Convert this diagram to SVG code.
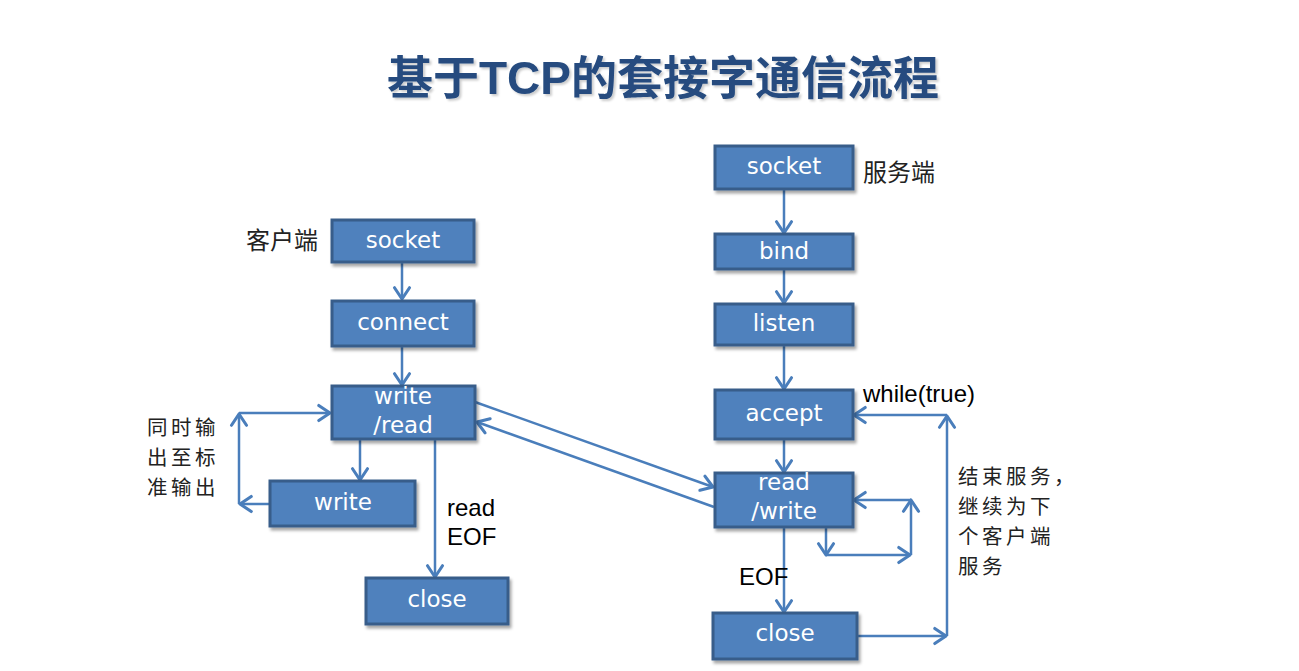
<svg xmlns="http://www.w3.org/2000/svg" width="1299" height="671" viewBox="0 0 1299 671">
<defs>
<filter id="sh" x="-10%" y="-10%" width="130%" height="140%">
<feDropShadow dx="2" dy="3" stdDeviation="1.5" flood-color="#000" flood-opacity="0.35"/>
</filter>
<filter id="tsh" x="-5%" y="-20%" width="110%" height="150%">
<feDropShadow dx="2" dy="2" stdDeviation="1" flood-color="#000" flood-opacity="0.2"/>
</filter>
<marker id="ah" markerUnits="userSpaceOnUse" markerWidth="20" markerHeight="20" viewBox="-12 -8 14 16" refX="0" refY="0" orient="auto">
<path d="M-9,-6 L0,0 L-9,6" fill="none" stroke="#4a7ebb" stroke-width="2.5" stroke-linecap="round" stroke-linejoin="round"/>
</marker>
</defs>
<style>
.box{fill:#4f81bd;stroke:#385d8a;stroke-width:3;filter:url(#sh)}
.bt{font-family:"DejaVu Sans","Liberation Sans",sans-serif;font-size:23px;fill:#fff;text-anchor:middle}
.cn{font-family:"Noto Sans CJK SC",sans-serif;font-size:24px;fill:#222}
.cm{font-family:"Noto Sans CJK SC",sans-serif;font-size:20.5px;letter-spacing:3.5px;fill:#222}
.en{font-family:"Liberation Sans",Arial,sans-serif;font-size:24px;fill:#000}
.c{fill:none;stroke:#4a7ebb;stroke-width:2.5;marker-end:url(#ah)}
</style>
<rect width="1299" height="671" fill="#fff"/>
<text x="663" y="94" text-anchor="middle" font-family="Noto Sans CJK SC,sans-serif" font-size="46" font-weight="bold" fill="#264b7f" filter="url(#tsh)">基于<tspan font-family="Liberation Sans,Arial,sans-serif" font-weight="bold">TCP</tspan>的套接字通信流程</text>

<g id="connectors">
<path class="c" d="M402,263 L402,299"/>
<path class="c" d="M402,347 L402,385"/>
<path class="c" d="M360,440 L360,480"/>
<path class="c" d="M435,440 L435,577"/>
<path class="c" d="M270,504 L240,504"/>
<path class="c" d="M239,504 L239,414"/>
<path class="c" d="M239,413 L330,413"/>
<path class="c" d="M475,402 L713,487"/>
<path class="c" d="M714,507 L477,422"/>
<path class="c" d="M784,189 L784,233"/>
<path class="c" d="M784,269 L784,303"/>
<path class="c" d="M784,345 L784,389"/>
<path class="c" d="M784,440 L784,472"/>
<path class="c" d="M784,527 L784,612"/>
<path class="c" d="M826,527 L826,555"/>
<path class="c" d="M826,555 L910,555"/>
<path class="c" d="M911,555 L911,500"/>
<path class="c" d="M911,500 L854,500"/>
<path class="c" d="M857,636 L946,636"/>
<path class="c" d="M947,636 L947,416"/>
<path class="c" d="M947,415 L854,415"/>
</g>

<g id="c-socket"><rect class="box" x="332" y="220" width="142" height="42"/><text class="bt" x="403" y="248">socket</text></g>
<g id="c-connect"><rect class="box" x="332" y="301" width="142" height="45"/><text class="bt" x="403" y="330">connect</text></g>
<g id="c-writeread"><rect class="box" x="332" y="386" width="143" height="53"/><text class="bt" x="403" y="404">write</text><text class="bt" x="403" y="433">/read</text></g>
<g id="c-write"><rect class="box" x="270" y="481" width="145" height="45"/><text class="bt" x="343" y="510">write</text></g>
<g id="c-close"><rect class="box" x="366" y="578" width="142" height="46"/><text class="bt" x="437" y="607">close</text></g>

<g id="s-socket"><rect class="box" x="715" y="146" width="138" height="43"/><text class="bt" x="784" y="174">socket</text></g>
<g id="s-bind"><rect class="box" x="715" y="234" width="138" height="35"/><text class="bt" x="784" y="259">bind</text></g>
<g id="s-listen"><rect class="box" x="715" y="304" width="138" height="41"/><text class="bt" x="784" y="331">listen</text></g>
<g id="s-accept"><rect class="box" x="715" y="390" width="138" height="49"/><text class="bt" x="784" y="421">accept</text></g>
<g id="s-readwrite"><rect class="box" x="715" y="473" width="138" height="54"/><text class="bt" x="784" y="490">read</text><text class="bt" x="784" y="519">/write</text></g>
<g id="s-close"><rect class="box" x="713" y="613" width="144" height="46"/><text class="bt" x="785" y="641">close</text></g>

<g id="labels">
<text class="cn" x="246" y="249">客户端</text>
<text class="cm" x="147" y="435">同时输</text>
<text class="cm" x="147" y="465">出至标</text>
<text class="cm" x="147" y="495">准输出</text>
<text class="en" x="447" y="516">read</text>
<text class="en" x="447" y="545">EOF</text>
<text class="cn" x="863" y="181">服务端</text>
<text class="en" x="863" y="402">while(true)</text>
<text class="en" x="739" y="585">EOF</text>
<text class="cm" x="958" y="484">结束服务，</text>
<text class="cm" x="958" y="514">继续为下</text>
<text class="cm" x="958" y="544">个客户端</text>
<text class="cm" x="958" y="574">服务</text>
</g>
</svg>
